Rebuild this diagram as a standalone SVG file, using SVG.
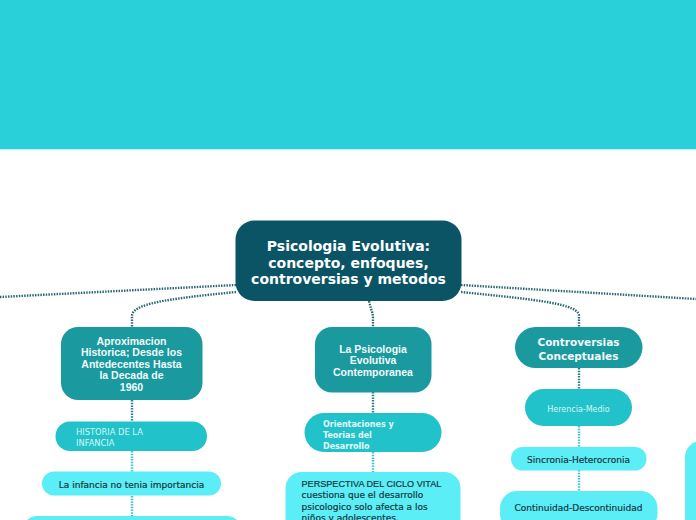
<svg xmlns="http://www.w3.org/2000/svg" width="696" height="520" viewBox="0 0 696 520">
<style>
.l0{fill:#0A5465}
.l1{fill:#1A999F}
.l2{fill:#21C2CA}
.l3{fill:#5BEEF6}
.t0{font-family:"DejaVu Sans",sans-serif;font-weight:bold;font-size:14px;fill:#FFFFFF;text-anchor:middle}
.t1{font-family:"Liberation Sans",Arial,sans-serif;font-weight:bold;font-size:10.5px;fill:#F2FBFC;text-anchor:middle}
.t1d{font-family:"DejaVu Sans",sans-serif;font-weight:bold;font-size:10.5px;fill:#F2FBFC;text-anchor:middle}
.t2{font-family:"DejaVu Sans",sans-serif;font-size:8.3px;fill:#D6F6F8}
.t2b{font-family:"DejaVu Sans",sans-serif;font-weight:bold;font-size:8px;fill:#E6F9FA}
.t3{font-family:"DejaVu Sans",sans-serif;font-size:9px;fill:#183640;stroke:#183640;stroke-width:0.2}
.t3a{font-family:"Liberation Sans",Arial,sans-serif;font-size:9.1px;fill:#183640;stroke:#183640;stroke-width:0.2}
.cd{fill:none;stroke:#2A6776;stroke-width:2.4;stroke-dasharray:1.5 1.2}
.cm{fill:none;stroke:#2C7C8A;stroke-width:2.4;stroke-dasharray:1.5 1.2}
.cl{fill:none;stroke:#3FC4D2;stroke-width:2.4;stroke-dasharray:1.5 1.2}
</style>
<rect x="0" y="0" width="696" height="149" fill="#29D0D9"/>
<rect x="0" y="149" width="696" height="1.2" fill="#BFF1F4"/>
<g id="connectors">
<path class="cd" d="M236,285 L0,297"/>
<path class="cd" d="M236,292 C165,299 132,304 132,316 L132,327"/>
<path class="cd" d="M369,301 C371,310 373,313 373,318 L373,327"/>
<path class="cd" d="M461,285 L696,299"/>
<path class="cd" d="M461,292 C540,300 579,304 579,316 L579,327"/>
<path class="cm" d="M132,400 L132,421"/>
<path class="cm" d="M373,392 L373,413"/>
<path class="cm" d="M579,368 L579,389"/>
<path class="cl" d="M132,451 L132,472"/>
<path class="cl" d="M132,496 L132,516"/>
<path class="cl" d="M373,452 L373,472"/>
<path class="cl" d="M579,426 L579,447"/>
<path class="cl" d="M579,470 L579,491"/>
</g>
<g id="root">
<rect class="l0" x="235.5" y="220.5" width="226" height="80.5" rx="19"/>
<text class="t0" x="348.5" y="251">Psicologia Evolutiva:</text>
<text class="t0" x="348.5" y="267.5">concepto, enfoques,</text>
<text class="t0" x="348.5" y="284">controversias y metodos</text>
</g>
<g id="aproximacion">
<rect class="l1" x="61" y="327" width="141.5" height="73" rx="17"/>
<text class="t1" x="131.5" y="344.5">Aproximacion</text>
<text class="t1" x="131.5" y="356">Historica; Desde los</text>
<text class="t1" x="131.5" y="367.5">Antedecentes Hasta</text>
<text class="t1" x="131.5" y="379">la Decada de</text>
<text class="t1" x="131.5" y="390.5">1960</text>
</g>
<g id="contemporanea">
<rect class="l1" x="315" y="327" width="116.5" height="65.5" rx="17"/>
<text class="t1" x="373" y="352.5">La Psicologia</text>
<text class="t1" x="373" y="364">Evolutiva</text>
<text class="t1" x="373" y="375.5">Contemporanea</text>
</g>
<g id="controversias">
<rect class="l1" x="515" y="327" width="127.5" height="41" rx="20.5"/>
<text class="t1d" x="578.5" y="346">Controversias</text>
<text class="t1d" x="578.5" y="359.5">Conceptuales</text>
</g>
<g id="historia">
<rect class="l2" x="55.5" y="421.5" width="151.5" height="29.5" rx="14.5"/>
<text class="t2" x="76" y="435">HISTORIA DE LA</text>
<text class="t2" x="76" y="445.5">INFANCIA</text>
</g>
<g id="infancia">
<rect class="l3" x="42" y="471.5" width="179" height="24" rx="12"/>
<text class="t3" x="131.5" y="487.5" text-anchor="middle">La infancia no tenia importancia</text>
</g>
<g id="historia-next">
<rect class="l3" x="23" y="516" width="218" height="40" rx="14"/>
</g>
<g id="orientaciones">
<rect class="l2" x="304.5" y="413" width="137" height="39" rx="19.5"/>
<text class="t2b" x="323" y="426.5">Orientaciones y</text>
<text class="t2b" x="323" y="437.5">Teorias del</text>
<text class="t2b" x="323" y="448.5">Desarrollo</text>
</g>
<g id="perspectiva">
<rect class="l3" x="285.5" y="472" width="175" height="70" rx="16"/>
<text class="t3a" x="301.5" y="487">PERSPECTIVA DEL CICLO VITAL</text>
<text class="t3" x="301.5" y="498">cuestiona que el desarrollo</text>
<text class="t3" x="301.5" y="509.5">psicologico solo afecta a los</text>
<text class="t3" x="301.5" y="521">niños y adolescentes.</text>
</g>
<g id="herencia">
<rect class="l2" x="525" y="389" width="107" height="37" rx="18.5"/>
<text class="t2" x="578.5" y="412" text-anchor="middle" style="font-size:8px">Herencia-Medio</text>
</g>
<g id="sincronia">
<rect class="l3" x="511" y="447" width="135.5" height="23.5" rx="11.5"/>
<text class="t3" x="578.5" y="463" text-anchor="middle">Sincronia-Heterocronia</text>
</g>
<g id="continuidad">
<rect class="l3" x="500" y="491" width="157.5" height="40" rx="17"/>
<text class="t3" x="578.5" y="511" text-anchor="middle">Continuidad-Descontinuidad</text>
</g>
<g id="right-node">
<rect class="l3" x="685" y="441" width="40" height="100" rx="16"/>
</g>
</svg>
